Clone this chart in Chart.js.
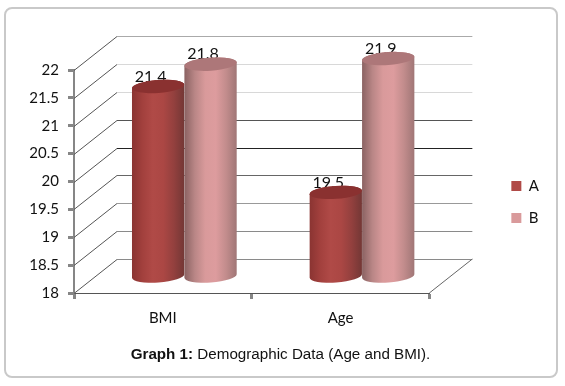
<!DOCTYPE html>
<html>
<head>
<meta charset="utf-8">
<title>Graph 1</title>
<script src="https://cdn.jsdelivr.net/npm/chart.js@4/dist/chart.umd.min.js"></script>
<style>
    html, body { margin: 0; padding: 0; background: #fff; }
    #wrap { position: relative; width: 565px; height: 386px; overflow: hidden; }
    #frame { position: absolute; left: 4px; top: 7px; width: 550px; height: 367px;
             border: 2px solid #c9c9c9; border-radius: 8px; }
    canvas { position: absolute; left: 0; top: 0; }
    #caption { position: absolute; left: 0; width: 561px; top: 345px; text-align: center;
               font: 15.2px "Liberation Sans", Arial, sans-serif; color: #111; }
</style>
</head>
<body>
<div id="wrap">
    <div id="frame"></div>
    <canvas id="chart" width="565" height="386"></canvas>
    <div id="caption"><b>Graph 1:</b> Demographic Data (Age and BMI).</div>
</div>
<script>
const categories = ['BMI', 'Age'];
const seriesA = [21.4, 19.5];
const seriesB = [21.8, 21.9];

const font = 'Lato';
const depthX = 43, depthY = 34;
// wall lines are not all one shade in the source image, bottom to top
const wallShades = ['#8a8a8a', '#8a8a8a', '#999', '#666', '#222', '#555', '#d8d8d8', '#d8d8d8', '#aaa'];
const shadesA = { side: ['#8a3432', '#a2403d', '#b04a47', '#ab4744', '#93403e', '#733735'], top: '#8a3130' };
const shadesB = { side: ['#8a6262', '#b98686', '#d99a9b', '#dd9c9e', '#c28c8c', '#a07676'], top: '#ad7779' };

function drawCylinder(ctx, bar, floor, shades) {
    // the bar sits halfway into the 3d floor
    const x = bar.x + depthX / 2, w = bar.width / 2;
    const top = bar.y - depthY / 2, bottom = floor - depthY / 2;
    const ry = 6.5, tilt = -0.07;

    const grad = ctx.createLinearGradient(x - w, 0, x + w, 0);
    shades.side.forEach((c, i) => grad.addColorStop(i / (shades.side.length - 1), c));

    ctx.beginPath();
    ctx.ellipse(x, bottom, w, ry, tilt, Math.PI, 0, true);
    ctx.ellipse(x, top, w, ry, tilt, 0, Math.PI, true);
    ctx.closePath();
    ctx.fillStyle = grad;
    ctx.fill();

    ctx.beginPath();
    ctx.ellipse(x, top, w, ry, tilt, 0, Math.PI * 2);
    ctx.fillStyle = shades.top;
    ctx.fill();
}

const cylinders = {
    id: 'cylinders',
    beforeDatasetsDraw(chart) {
        const ctx = chart.ctx, area = chart.chartArea, y = chart.scales.y;
        ctx.save();
        ctx.lineWidth = 1;
        // back wall lines and the diagonals on the left wall
        y.ticks.forEach((tick, i) => {
            const py = Math.round(y.getPixelForValue(tick.value)) + 0.5;
            ctx.strokeStyle = wallShades[i];
            ctx.beginPath();
            ctx.moveTo(area.left + depthX, py - depthY);
            ctx.lineTo(area.right + depthX, py - depthY);
            ctx.stroke();
            ctx.strokeStyle = '#555';
            ctx.beginPath();
            ctx.moveTo(area.left, py);
            ctx.lineTo(area.left + depthX, py - depthY);
            ctx.stroke();
        });
        // right edge of the floor
        ctx.strokeStyle = '#666';
        ctx.beginPath();
        ctx.moveTo(area.right, area.bottom);
        ctx.lineTo(area.right + depthX, area.bottom - depthY);
        ctx.stroke();

        const metaA = chart.getDatasetMeta(0), metaB = chart.getDatasetMeta(1);
        ctx.fillStyle = '#111';
        ctx.font = '16px ' + font;
        ctx.textAlign = 'center';
        ctx.textBaseline = 'middle';
        [metaA, metaB].forEach((meta, d) => {
            meta.data.forEach((bar, i) => {
                const val = chart.data.datasets[d].data[i];
                ctx.fillText(val.toFixed(1), bar.x + depthX / 2 - 7.5, bar.y - depthY / 2 - 10);
            });
        });
        metaA.data.forEach(bar => drawCylinder(ctx, bar, area.bottom, shadesA));
        metaB.data.forEach(bar => drawCylinder(ctx, bar, area.bottom, shadesB));
        ctx.restore();
    },
    // bars are painted above, skip the flat ones
    beforeDatasetDraw() {
        return false;
    }
};

new Chart(document.getElementById('chart'), {
    type: 'bar',
    data: {
        labels: categories,
        datasets: [
            { label: 'A', data: seriesA, backgroundColor: '#b04a47', categoryPercentage: 0.59, barPercentage: 1 },
            { label: 'B', data: seriesB, backgroundColor: '#d99a9b', categoryPercentage: 0.59, barPercentage: 1 }
        ]
    },
    plugins: [cylinders],
    options: {
        responsive: false,
        animation: false,
        layout: { padding: { left: 0, top: 70, right: 16, bottom: 52 } },
        plugins: {
            tooltip: { enabled: false },
            title: { display: false },
            legend: {
                position: 'right',
                labels: {
                    boxWidth: 10,
                    boxHeight: 10,
                    padding: 17,
                    color: '#111',
                    font: { family: font, size: 15 }
                }
            }
        },
        scales: {
            x: {
                afterFit(scale) { scale.height = 41; },
                grid: { drawOnChartArea: false, tickLength: 6, tickColor: '#868686', tickWidth: 3 },
                border: { color: '#555', width: 1 },
                ticks: { color: '#111', padding: 10, font: { family: font, size: 15 } }
            },
            y: {
                min: 18,
                max: 22,
                afterFit(scale) { scale.width = 74; },
                grid: { drawOnChartArea: false, tickLength: 6, tickColor: '#868686', tickWidth: 3 },
                border: { color: '#868686', width: 2 },
                ticks: {
                    stepSize: 0.5,
                    color: '#111',
                    padding: 9,
                    font: { family: font, size: 15 },
                    callback: v => String(v)
                }
            },
            // holds the room between the plot and the legend
            spacer: {
                type: 'linear',
                position: 'right',
                display: true,
                afterFit(scale) { scale.width = 65; },
                grid: { display: false },
                border: { display: false },
                ticks: { display: false }
            }
        }
    }
});
</script>
</body>
</html>
